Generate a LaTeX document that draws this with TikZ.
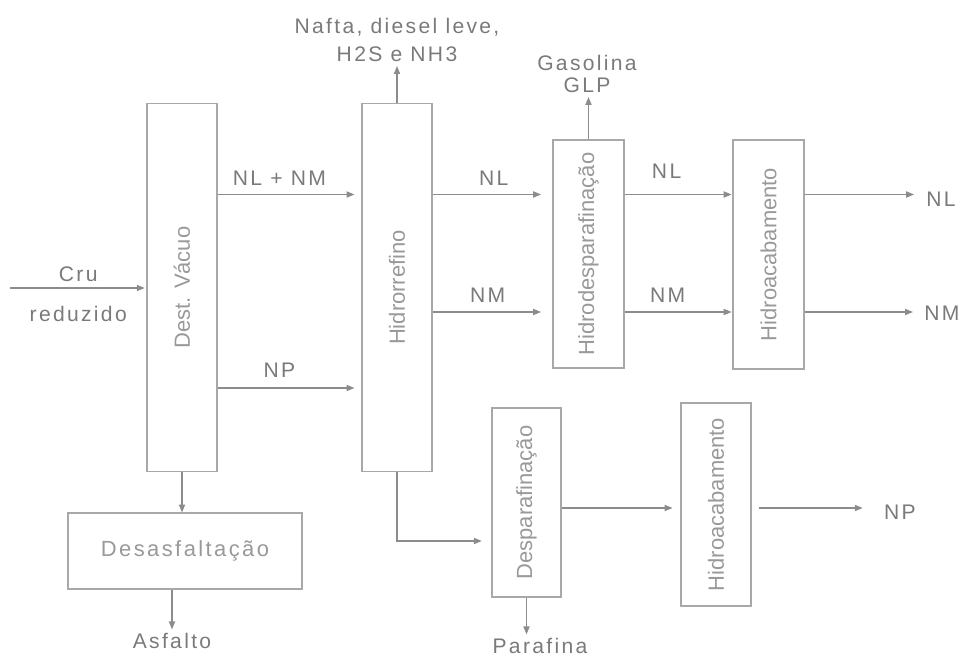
\documentclass[tikz,border=0pt]{standalone}
\usepackage{fontspec}
\usepackage{graphicx}
\usetikzlibrary{arrows.meta,positioning}
\newfontfamily\lblfont{Liberation Sans}[LetterSpace=11]
\newfontfamily\unitfont{Liberation Sans}
\definecolor{txtgray}{gray}{0.48}
\definecolor{unittxt}{gray}{0.6}
\definecolor{linegray}{gray}{0.55}
\definecolor{boxgray}{gray}{0.66}

\begin{document}
\begin{tikzpicture}[x=0.02cm, y=-0.02cm,
    unit/.style={draw=boxgray, line width=0.6pt, inner sep=0pt, text=unittxt,
        font=\unitfont\fontsize{12.5}{15}\selectfont},
    lbl/.style={text=txtgray, inner sep=2pt, font=\lblfont\fontsize{12}{14}\selectfont},
    flow/.style={draw=linegray, line width=0.7pt, -{Triangle[length=4.5pt,width=3.5pt]}}]
    \useasboundingbox (0,0) rectangle (975,659);

    % process units
    \node[unit, minimum width=1.4cm, minimum height=7.38cm] (dest) at (182,287.5) {\rotatebox{90}{Dest. Vácuo}};
    \node[unit, minimum width=1.4cm, minimum height=7.38cm] (hidro) at (397,287.5) {\rotatebox{90}{Hidrorrefino}};
    \node[unit, minimum width=1.42cm, minimum height=4.56cm] (hdespar) at (588.5,254) {\rotatebox{90}{Hidrodesparafinação}};
    \node[unit, minimum width=1.42cm, minimum height=4.58cm] (hacabA) at (768.5,254.5) {\rotatebox{90}{Hidroacabamento}};
    \node[unit, minimum width=4.68cm, minimum height=1.52cm] (desasf) at (185,551) {\lblfont\fontsize{12.5}{15}\selectfont Desasfaltação};
    \node[unit, minimum width=1.38cm, minimum height=3.78cm] (despar) at (526.5,502.5) {\rotatebox{90}{Desparafinação}};
    \node[unit, minimum width=1.4cm, minimum height=4.06cm] (hacabB) at (716,504.5) {\rotatebox{90}{Hidroacabamento}};

    % products
    \node[lbl, align=center, font=\lblfont\fontsize{12}{16.4}\selectfont] (nafta) at (397,40) {Nafta, diesel leve,\\H2S e NH3};
    \node[lbl, align=center, font=\lblfont\fontsize{12}{13}\selectfont] (gasol) at (587,74) {Gasolina\\GLP};
    \node[lbl] (asfalto) at (172,641) {Asfalto};
    \node[lbl] (parafina) at (540,646) {Parafina};
    \node[lbl] (outNL) at (941,199) {NL};
    \node[lbl] (outNM) at (942,313) {NM};
    \node[lbl] (outNP) at (900,512) {NP};

    % stream levels
    \coordinate (feed) at (10,288);
    \coordinate (lNL) at (0,194.5);
    \coordinate (lNM) at (0,312);
    \coordinate (lNP) at (0,388);
    \coordinate (lDes) at (0,541);
    \coordinate (lPar) at (0,508);

    \draw[flow, shorten >=1pt] (feed) -- (feed -| dest.west)
        node[lbl, midway, above=1.5pt] {Cru} node[lbl, midway, below=8pt] {reduzido};
    \draw[flow, shorten >=4pt] (dest.east |- lNL) -- (hidro.west |- lNL) node[lbl, pos=0.43, above=2.5pt] {NL + NM};
    \draw[flow, shorten >=4pt] (dest.east |- lNP) -- (hidro.west |- lNP) node[lbl, pos=0.43, above=3.7pt] {NP};
    \draw[flow] (dest.south) -- (dest.south |- desasf.north);
    \draw[flow] (asfalto.north |- desasf.south) -- (asfalto.north);

    \draw[flow] (hidro.north) -- (hidro.north |- nafta.south);
    \draw[flow, shorten >=6.5pt] (hidro.east |- lNL) -- (hdespar.west |- lNL) node[lbl, pos=0.51, above=3pt] {NL};
    \draw[flow, shorten >=6.5pt] (hidro.east |- lNM) -- (hdespar.west |- lNM) node[lbl, pos=0.46, above=3pt] {NM};
    \draw[flow, shorten >=5.5pt] (hidro.south) |- (despar.west |- lDes);

    \draw[flow] (hdespar.north) -- (hdespar.north |- gasol.south);
    \draw[flow, shorten >=0.5pt] (hdespar.east |- lNL) -- (hacabA.west |- lNL) node[lbl, pos=0.39, above=6.5pt] {NL};
    \draw[flow, shorten >=0.5pt] (hdespar.east |- lNM) -- (hacabA.west |- lNM) node[lbl, pos=0.4, above=3pt] {NM};
    \draw[flow, shorten >=4.8pt] (hacabA.east |- lNL) -- (outNL.west |- lNL);
    \draw[flow, shorten >=4.3pt] (hacabA.east |- lNM) -- (outNM.west |- lNM);

    \draw[flow] (despar.south) -- (despar.south |- parafina.north);
    \draw[flow, shorten >=4.5pt] (despar.east |- lPar) -- (hacabB.west |- lPar);
    \draw[flow, shorten <=4pt, shorten >=10pt] (hacabB.east |- lPar) -- (outNP.west |- lPar);
\end{tikzpicture}
\end{document}
